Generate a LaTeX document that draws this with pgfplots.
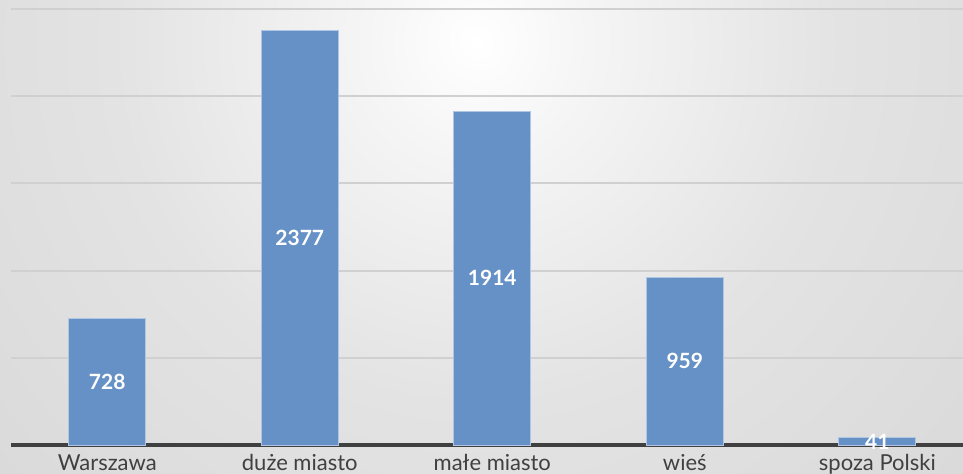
\documentclass[border=0pt]{standalone}
\usepackage{pgfplots}
\pgfplotsset{compat=1.18}
\usepackage{fontspec}
\setmainfont{Lato}
\definecolor{barfill}{RGB}{101,145,198}
\definecolor{barline}{RGB}{175,198,228}
\definecolor{gridc}{RGB}{208,208,208}
\definecolor{axisc}{RGB}{64,64,64}
\definecolor{labc}{RGB}{64,64,64}
\definecolor{bg0}{RGB}{255,255,255}
\definecolor{bg1}{RGB}{245,245,245}
\definecolor{bg2}{RGB}{227,227,227}
\definecolor{bg3}{RGB}{208,208,208}
\definecolor{bg4}{RGB}{196,196,196}
\pgfdeclareradialshading{bgshade}{\pgfpoint{0bp}{0bp}}{%
  color(0bp)=(bg0); color(4bp)=(bg1); color(13bp)=(bg2); color(34bp)=(bg3); color(50bp)=(bg4)}
\begin{document}
\begin{tikzpicture}
\path[use as bounding box] (0,0) rectangle (963bp,474bp);
\clip (0,0) rectangle (963bp,474bp);
\shade[shading=bgshade] (-223bp,-268bp) rectangle (1177bp,1132bp);
\begin{axis}[
  at={(11bp,29bp)}, anchor=south west,
  scale only axis, width=952bp, height=445bp,
  xmin=-0.5, xmax=4.445, ymin=0, ymax=2552,
  axis lines*=left,
  y axis line style={draw=none},
  yticklabels={},
  x axis line style={line width=3bp, color=axisc, -},
  xtick={0,1,2,3,4},
  xticklabels={Warszawa, duże miasto, małe miasto, wieś, spoza Polski},
  xticklabel style={font=\fontsize{22bp}{26bp}\selectfont, text=labc, yshift=-6bp},
  major tick length=0pt,
  ytick={500,1000,1500,2000,2500},
  ymajorgrids, grid style={gridc, line width=2bp},
  clip=false,
  /pgf/number format/.cd, assume math mode=true, 1000 sep={},
]
\addplot[ybar, bar width=0.4, fill=barfill, draw=barline, line width=1bp,
  visualization depends on=rawy \as \rawy,
  nodes near coords,
  every node near coord/.append style={anchor=center, text=white,
    font=\bfseries\fontsize{21bp}{24bp}\selectfont,
    shift={(axis direction cs:0,-\rawy/2)}}]
  coordinates {(0,728) (1,2377) (2,1914) (3,959) (4,41)};
\end{axis}
\end{tikzpicture}
\end{document}
